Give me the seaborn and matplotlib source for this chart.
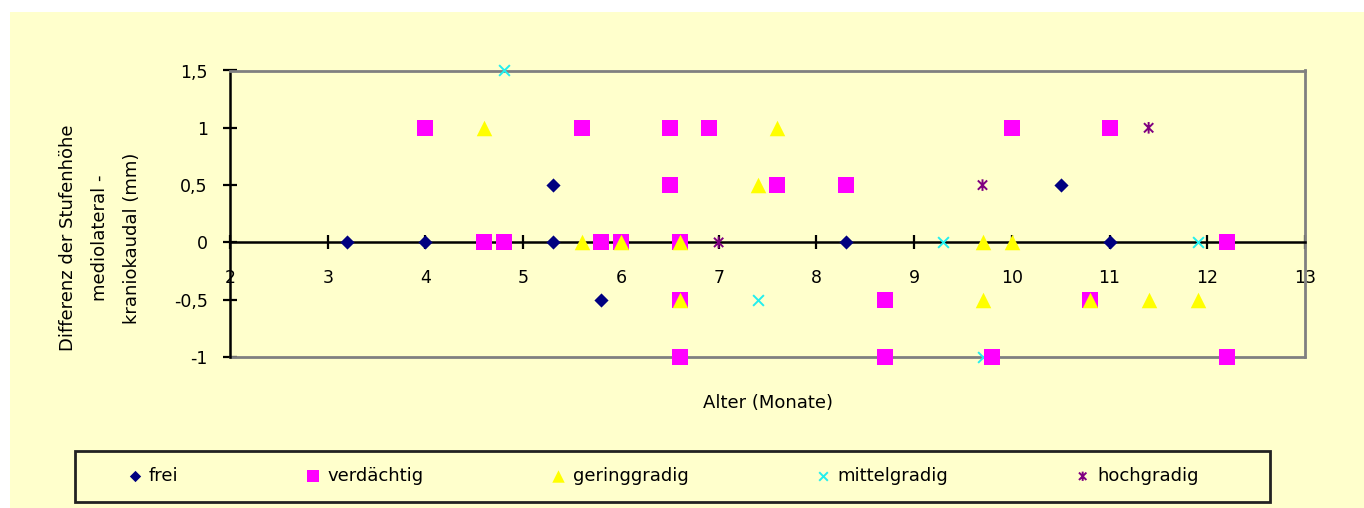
import numpy as np
import pandas as pd
import matplotlib
matplotlib.use("Agg")
import matplotlib.pyplot as plt
from matplotlib.path import Path
from matplotlib.patches import Rectangle
import seaborn as sns

# ---- data ----
categories = ["frei", "verdächtig", "geringgradig", "mittelgradig", "hochgradig"]

frei_x = [3.2, 4.0, 5.3, 5.3, 5.8, 8.3, 10.5, 11.0]
frei_y = [0, 0, 0.5, 0, -0.5, 0, 0.5, 0]

verd_x = [4.0, 4.6, 4.8, 5.6, 5.8, 6.0, 6.5, 6.5, 6.6, 6.6, 6.6, 6.9, 7.6, 8.3,
          8.7, 8.7, 9.8, 10.0, 10.8, 11.0, 12.2, 12.2]
verd_y = [1, 0, 0, 1, 0, 0, 1, 0.5, 0, -0.5, -1, 1, 0.5, 0.5,
          -0.5, -1, -1, 1, -0.5, 1, 0, -1]

geri_x = [4.6, 5.6, 6.0, 6.6, 6.6, 7.4, 7.6, 9.7, 9.7, 10.0, 10.8, 11.4, 11.9]
geri_y = [1, 0, 0, 0, -0.5, 0.5, 1, 0, -0.5, 0, -0.5, -0.5, -0.5]

mitt_x = [4.8, 7.4, 9.3, 9.7, 11.9]
mitt_y = [1.5, -0.5, 0, -1, 0]

hoch_x = [7.0, 9.7, 11.4]
hoch_y = [0, 0.5, 1]

x_ticks = list(range(2, 14))
y_ticks = [-1, -0.5, 0, 0.5, 1, 1.5]
y_tick_labels = ["-1", "-0,5", "0", "0,5", "1", "1,5"]

xlabel = "Alter (Monate)"
ylabel = "Differenz der Stufenhöhe\nmediolateral -\nkraniokaudal (mm)"

# ---- style ----
sns.set_style("ticks")
plt.rcParams["font.family"] = ["DejaVu Sans"]
plt.rcParams["text.color"] = "black"
BG = "#FFFFCC"
GREY = "#808080"

fig = plt.figure(figsize=(13.64, 5.08), dpi=100)
fig.patch.set_facecolor("white")
fig.patches.append(Rectangle((10 / 1364, 0), 1 - 10 / 1364, 1 - 12 / 508,
                             transform=fig.transFigure, facecolor=BG,
                             edgecolor="none", zorder=-10))

L, R, T, B = 230, 1305, 70.5, 357
ax = fig.add_axes([L / 1364, 1 - B / 508, (R - L) / 1364, (B - T) / 508])
ax.set_facecolor(BG)

asterisk = Path([(0, -1), (0, 1), (-0.8, -0.8), (0.8, 0.8), (-0.8, 0.8), (0.8, -0.8)],
                [Path.MOVETO, Path.LINETO, Path.MOVETO, Path.LINETO, Path.MOVETO, Path.LINETO])

series = [
    ("frei", frei_x, frei_y, dict(marker="D", color="#000080", s=52, linewidth=0)),
    ("verdächtig", verd_x, verd_y, dict(marker="s", color="#FF00FF", s=130, linewidth=0)),
    ("geringgradig", geri_x, geri_y, dict(marker="^", color="#FFFF00", s=125, linewidth=0)),
    ("mittelgradig", mitt_x, mitt_y, dict(marker="x", color="#22EEEE", s=60, linewidth=1.4)),
    ("hochgradig", hoch_x, hoch_y, dict(marker=asterisk, color="#800080", s=70,
                                        facecolor="none", edgecolor="#800080", linewidth=1.4)),
]
zorders = {"frei": 5, "verdächtig": 5, "geringgradig": 6, "mittelgradig": 4, "hochgradig": 7}

for name, xs, ys, kw in series:
    df = pd.DataFrame({"Alter": xs, "Diff": ys})
    n_before = len(ax.collections)
    sns.scatterplot(data=df, x="Alter", y="Diff", ax=ax, label=name, legend=False, **kw)
    for c in ax.collections[n_before:]:
        c.set_clip_on(False)
        c.set_zorder(zorders[name])

ax.set_xlim(2, 13)
ax.set_ylim(-1, 1.5)

# spines
ax.spines["bottom"].set_position(("data", 0))
ax.spines["bottom"].set_color("black")
ax.spines["bottom"].set_linewidth(1.8)
ax.spines["left"].set_color("black")
ax.spines["left"].set_linewidth(1.8)
for s in ["top", "right"]:
    ax.spines[s].set_visible(True)
    ax.spines[s].set_color(GREY)
    ax.spines[s].set_linewidth(2)
ax.axhline(-1, color=GREY, lw=2, zorder=1, clip_on=False)

ax.set_xticks(x_ticks)
ax.set_xticklabels([str(t) for t in x_ticks])
ax.set_yticks(y_ticks)
ax.set_yticklabels(y_tick_labels)
ax.tick_params(axis="x", direction="inout", length=10, width=1.6, pad=14,
               labelsize=12.5, colors="black")
ax.tick_params(axis="y", direction="inout", length=10, width=1.6, pad=11,
               labelsize=12.5, colors="black")
ax.set_xlabel("")
ax.set_ylabel("")

fig.text((L + R) / 2 / 1364, 1 - 403 / 508, xlabel, ha="center", va="center",
         fontsize=13, color="black")
fig.text(100 / 1364, 1 - 238 / 508, ylabel, ha="center", va="center", rotation=90,
         fontsize=13, multialignment="center", linespacing=2.0, color="black")

# legend
handles, labels = ax.get_legend_handles_labels()
leg = fig.legend(handles, labels, loc="center", bbox_to_anchor=(663 / 1364, 1 - 476 / 508),
                 ncol=5, frameon=False, fontsize=13, markerscale=0.8,
                 handlelength=0.8, handletextpad=0.4, columnspacing=7.05)
for t in leg.get_texts():
    t.set_color("black")
fig.patches.append(Rectangle((75 / 1364, 1 - 502 / 508), 1195 / 1364, 51 / 508,
                             transform=fig.transFigure, facecolor="none",
                             edgecolor="#222222", linewidth=2, zorder=5))

fig.savefig("out.png", dpi=100, facecolor=fig.get_facecolor())
